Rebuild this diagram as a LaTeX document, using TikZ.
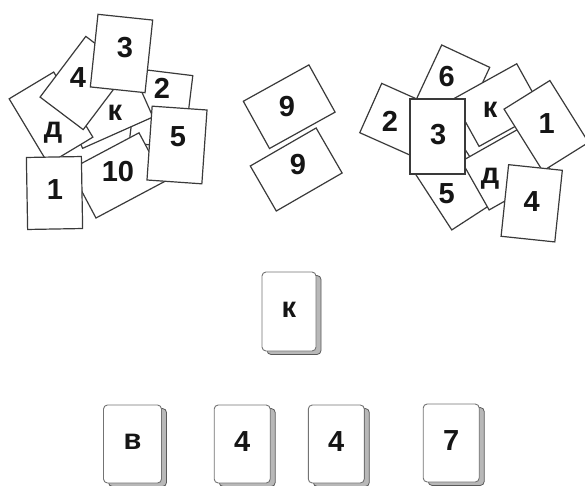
\documentclass[tikz,border=0pt]{standalone}
\usepackage{fontspec}
\setmainfont{Liberation Sans}
\definecolor{cardline}{HTML}{3A3A3A}
\definecolor{txt}{HTML}{151515}
\newcommand\crd[6]{\node[card,minimum width=#4,minimum height=#5,rotate=#6] (#1) at (#2,#3) {};}
\newcommand\lbl[4]{\node[lab] (#1) at (#2,#3) {#4};}
\newcommand\stk[6]{%
  \node[stackside,minimum width=#4,minimum height=#5] (#1s) at (#2+5,#3+3.5) {};
  \node[stackface,minimum width=#4,minimum height=#5] (#1) at (#2,#3) {};
  \node[lab] (#1t) at (#2,#3-2) {#6};}
\begin{document}
\begin{tikzpicture}[x=1pt,y=-1pt,
  card/.style={draw=cardline,fill=white,line width=1.2pt,inner sep=0pt,rectangle},
  lab/.style={inner sep=0pt,text=txt,font=\bfseries\fontsize{29}{29}\selectfont},
  stackside/.style={draw=black!65,fill=black!28,line width=0.8pt,rounded corners=4pt,inner sep=0pt},
  stackface/.style={draw=black!55,fill=white,line width=0.9pt,rounded corners=4pt,inner sep=0pt}]
\useasboundingbox (0,0) rectangle (585,486);
% ---------- left cluster ----------
\crd{L2}{161}{109}{55}{74}{-7}
\crd{LK}{106.8}{108}{77}{54}{24}
\crd{Ld}{51}{118}{52}{76}{31}
\crd{L4}{84.5}{83}{54}{76}{-37}
\crd{L3}{121.5}{53.5}{55}{73}{-6}
\crd{L10}{117.5}{175.4}{78}{55}{28}
\crd{L5}{177}{145}{55}{74}{-4}
\crd{L1}{54.5}{193}{55}{72}{1}
\lbl{tL2}{162}{88}{2}
\lbl{tLK}{115}{113}{к}
\lbl{tLd}{53}{133}{д}
\lbl{tL4}{78}{78}{4}
\lbl{tL3}{125}{48}{3}
\lbl{tL10}{118}{172}{10}
\lbl{tL5}{178}{137}{5}
\lbl{tL1}{55}{190}{1}
% ---------- middle ----------
\crd{M1}{289.2}{106.7}{75}{54}{29}
\crd{M2}{296.2}{169.5}{76}{52}{30}
\lbl{tM1}{287}{106.7}{9}
\lbl{tM2}{298}{165}{9}
% ---------- right cluster ----------
\crd{R6}{450.5}{88.8}{53}{72}{-25}
\crd{R2}{405}{123.3}{75}{54}{-24}
\crd{R5}{454.4}{183.5}{55}{75}{33}
\crd{Rd}{507.1}{167.6}{73}{56}{29.5}
\crd{RK}{497.9}{105.1}{73}{54}{29}
\crd{R3}{437.5}{136.5}{55}{75}{0}
\crd{R1}{546.3}{125.8}{54}{73}{32}
\crd{R4}{531.7}{203.3}{54}{72}{-6}
\lbl{tR6}{446.7}{76.7}{6}
\lbl{tR2}{390}{121.7}{2}
\lbl{tR5}{446.7}{193.3}{5}
\lbl{tRd}{490}{178.3}{д}
\lbl{tRK}{490}{110}{к}
\lbl{tR3}{438.3}{135}{3}
\lbl{tR1}{546.7}{123.3}{1}
\lbl{tR4}{531.7}{201.7}{4}
% ---------- stacks ----------
\stk{SK}{289}{311.5}{54}{79}{к}
\stk{SB}{132.5}{444}{58}{78}{в}
\stk{S4a}{242.2}{444}{56}{78}{4}
\stk{S4b}{336.3}{444}{56}{78}{4}
\stk{S7}{451.2}{443}{56}{78}{7}
\end{tikzpicture}
\end{document}
